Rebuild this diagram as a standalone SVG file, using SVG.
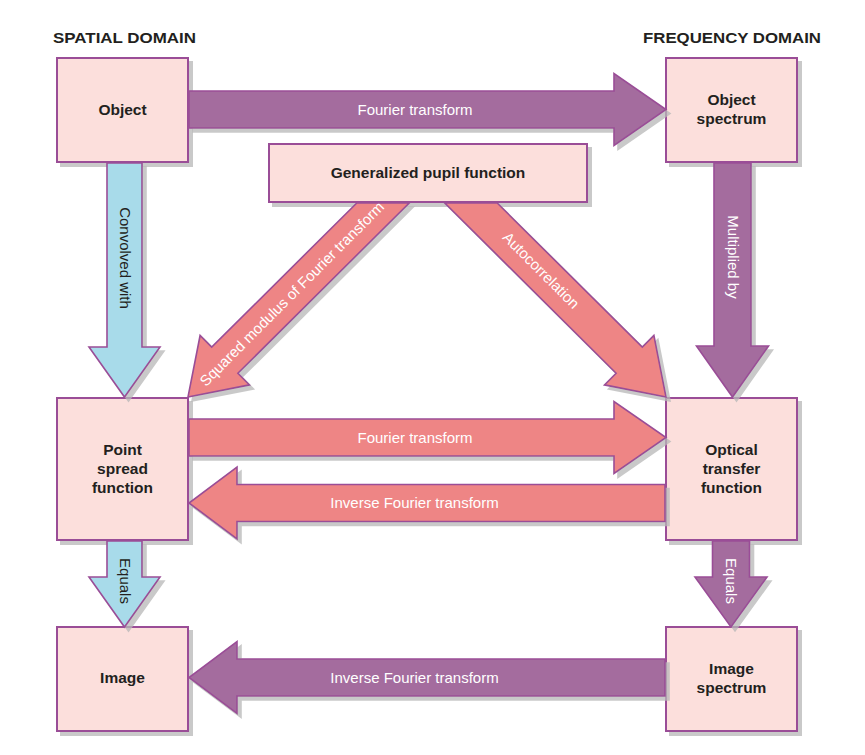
<svg xmlns="http://www.w3.org/2000/svg" width="865" height="755" viewBox="0 0 865 755">
<defs>
<filter id="sh" x="-10%" y="-10%" width="130%" height="130%">
<feDropShadow dx="4" dy="4" stdDeviation="0.7" flood-color="#b8b8b8" flood-opacity="0.75"/>
</filter>
<style>
.box{fill:#fcdfdc;stroke:#9a4e97;stroke-width:2;filter:url(#sh)}
.arr{stroke:#9a4e97;stroke-width:1.6;stroke-linejoin:miter;filter:url(#sh)}
.pu{fill:#a46c9e}
.pk{fill:#ee8585}
.bl{fill:#a8dbea}
.nt{font-family:"Liberation Sans",Arial,sans-serif;font-weight:bold;font-size:15.5px;fill:#231f20;text-anchor:middle}
.hd{font-family:"Liberation Sans",Arial,sans-serif;font-weight:bold;font-size:15.5px;fill:#231f20}
.lw{font-family:"Liberation Sans",Arial,sans-serif;font-size:15px;fill:#ffffff;text-anchor:middle}
.ld{font-family:"Liberation Sans",Arial,sans-serif;font-size:15px;fill:#231f20;text-anchor:middle}
</style>
</defs>
<rect width="865" height="755" fill="#ffffff"/>
<text class="hd" x="53" y="43" textLength="143" lengthAdjust="spacingAndGlyphs">SPATIAL DOMAIN</text>
<text class="hd" x="643" y="43" textLength="178" lengthAdjust="spacingAndGlyphs">FREQUENCY DOMAIN</text>

<g id="object"><rect class="box" x="57" y="58" width="131" height="104"/><text class="nt" x="122.5" y="115">Object</text></g>
<g id="object-spectrum"><rect class="box" x="666" y="58" width="131" height="104"/><text class="nt" x="731.5" y="105">Object</text><text class="nt" x="731.5" y="124">spectrum</text></g>
<g id="pupil"><rect class="box" x="269" y="144" width="318" height="58"/><text class="nt" x="428" y="178">Generalized pupil function</text></g>
<g id="psf"><rect class="box" x="57" y="398" width="131" height="142"/><text class="nt" x="122.5" y="455">Point</text><text class="nt" x="122.5" y="474">spread</text><text class="nt" x="122.5" y="493">function</text></g>
<g id="otf"><rect class="box" x="666" y="398" width="131" height="142"/><text class="nt" x="731.5" y="455">Optical</text><text class="nt" x="731.5" y="474">transfer</text><text class="nt" x="731.5" y="493">function</text></g>
<g id="image"><rect class="box" x="57" y="627" width="131" height="104"/><text class="nt" x="122.5" y="683">Image</text></g>
<g id="image-spectrum"><rect class="box" x="666" y="627" width="131" height="104"/><text class="nt" x="731.5" y="674">Image</text><text class="nt" x="731.5" y="693">spectrum</text></g>

<g id="connectors">
<g id="c-ft-top"><polygon class="arr pu" points="189,91 614,91 614,73.5 666,109.5 614,145.5 614,128 189,128"/><text class="lw" x="415" y="114.5">Fourier transform</text></g>
<g id="c-mult"><polygon class="arr pu" points="714,163 751,163 751,346 768.5,346 732.5,397 696.5,346 714,346"/><text class="lw" transform="translate(732.5,257) rotate(90)" x="0" y="5">Multiplied by</text></g>
<g id="c-conv"><polygon class="arr bl" points="107,163 142,163 142,347 160,347 124.5,397 89,347 107,347"/><text class="ld" transform="translate(124.5,258) rotate(90)" x="0" y="5">Convolved with</text></g>
<g id="c-sq"><polygon class="arr pk" points="356.8,203 409.2,203 237.9,373.3 249.5,384.9 188,397 200.1,335.5 211.7,347.1"/><text class="lw" transform="translate(292,294) rotate(-45)" x="0" y="5">Squared modulus of Fourier transform</text></g>
<g id="c-auto"><polygon class="arr pk" points="444.8,203 497.2,203 642.3,347.1 653.9,335.5 666,397 604.5,384.9 616.1,373.3"/><text class="lw" transform="translate(541,270.5) rotate(45)" x="0" y="5">Autocorrelation</text></g>
<g id="c-ft-mid"><polygon class="arr pk" points="189,419 614,419 614,401.5 666,437.5 614,473.5 614,456 189,456"/><text class="lw" x="415" y="442.5">Fourier transform</text></g>
<g id="c-ift-mid"><polygon class="arr pk" points="665,484.5 237,484.5 237,467 189,503 237,539 237,521.5 665,521.5"/><text class="lw" x="414.5" y="508">Inverse Fourier transform</text></g>
<g id="c-eq-left"><polygon class="arr bl" points="107,541 142,541 142,577 160,577 124.5,627 89,577 107,577"/><text class="ld" transform="translate(124.5,581) rotate(90)" x="0" y="5">Equals</text></g>
<g id="c-eq-right"><polygon class="arr pu" points="712.5,541 749.5,541 749.5,577 767,577 731,627 695,577 712.5,577"/><text class="lw" transform="translate(731,581) rotate(90)" x="0" y="5">Equals</text></g>
<g id="c-ift-bot"><polygon class="arr pu" points="665,659 237,659 237,641.5 189,677.5 237,713.5 237,696 665,696"/><text class="lw" x="414.5" y="682.5">Inverse Fourier transform</text></g>
</g>
</svg>
